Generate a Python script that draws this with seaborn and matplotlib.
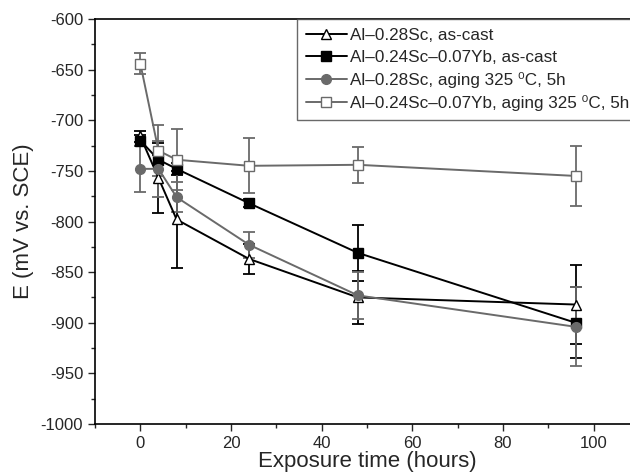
import matplotlib
matplotlib.use("Agg")
import matplotlib.pyplot as plt
import numpy as np
import pandas as pd
import seaborn as sns

# exposure time (hours)
hours = [0, 4, 8, 24, 48, 96]

# potential E (mV vs. SCE) and error bars
sc_cast = [-716, -757, -798, -837, -875, -882]
sc_cast_err = [5, 35, 48, 15, 26, 39]
scyb_cast = [-720, -739, -748, -782, -831, -900]
scyb_cast_err = [5, 5, 6, 4, 28, 35]
sc_aged = [-748, -748, -776, -823, -873, -904]
sc_aged_err = [23, 28, 15, 13, 23, 39]
scyb_aged = [-644, -730, -739, -745, -744, -755]
scyb_aged_err = [10, 25, 30, 27, 18, 30]

labels = ["Al\u20130.28Sc, as-cast",
          "Al\u20130.24Sc\u20130.07Yb, as-cast",
          "Al\u20130.28Sc, aging 325 \u2070C, 5h",
          "Al\u20130.24Sc\u20130.07Yb, aging 325 \u2070C, 5h"]

sns.set_style("ticks")
plt.rcParams['font.family'] = ['Liberation Sans', 'DejaVu Sans']
plt.rcParams['axes.unicode_minus'] = False

fig = plt.figure(figsize=(6.3, 4.74), dpi=100)
ax = fig.add_axes([95 / 630, 1 - 424 / 474, 544 / 630, 405 / 474])

gray = "#6a6a6a"
styles = [
    (sc_cast, sc_cast_err, "black", "^", "white", "black"),
    (scyb_cast, scyb_cast_err, "black", "s", "black", "black"),
    (sc_aged, sc_aged_err, gray, "o", gray, gray),
    (scyb_aged, scyb_aged_err, gray, "s", "white", gray),
]

for (vals, err, col, mk, fc, ec), lab in zip(styles, labels):
    df = pd.DataFrame({"hours": hours, "E": vals})
    ax.errorbar(hours, vals, yerr=err, fmt="none", ecolor=col, elinewidth=1.3,
                capsize=4, capthick=1.3, zorder=2)
    sns.lineplot(data=df, x="hours", y="E", ax=ax, color=col, marker=mk,
                 markersize=7, markerfacecolor=fc, markeredgecolor=ec,
                 markeredgewidth=1.0, linewidth=1.4, label=lab, zorder=3)

ax.set_xlim(-10, 110)
ax.set_ylim(-1000, -600)
ax.set_xticks([0, 20, 40, 60, 80, 100])
ax.set_xticks(np.arange(-10, 111, 10), minor=True)
ax.set_yticks(np.arange(-1000, -599, 50))
ax.set_yticks(np.arange(-1000, -599, 25), minor=True)
ax.tick_params(axis="both", which="major", direction="out", length=5, width=1,
               labelsize=12, top=False, right=False)
ax.tick_params(axis="both", which="minor", direction="out", length=3, width=1,
               top=False, right=False)
for sp in ax.spines.values():
    sp.set_linewidth(1.2)
    sp.set_color("black")

ax.set_xlabel("Exposure time (hours)", fontsize=16, labelpad=0)
ax.set_ylabel("E (mV vs. SCE)", fontsize=16, labelpad=5)

leg = ax.legend(loc="upper right", bbox_to_anchor=(1.0, 1.0), borderaxespad=0,
                fontsize=12.3, frameon=True, fancybox=False, handlelength=2.4,
                handletextpad=0.2, labelspacing=0.4, borderpad=0.55)
leg.get_frame().set_edgecolor("#444444")
leg.get_frame().set_linewidth(1.0)

fig.savefig("out.png", dpi=100)
